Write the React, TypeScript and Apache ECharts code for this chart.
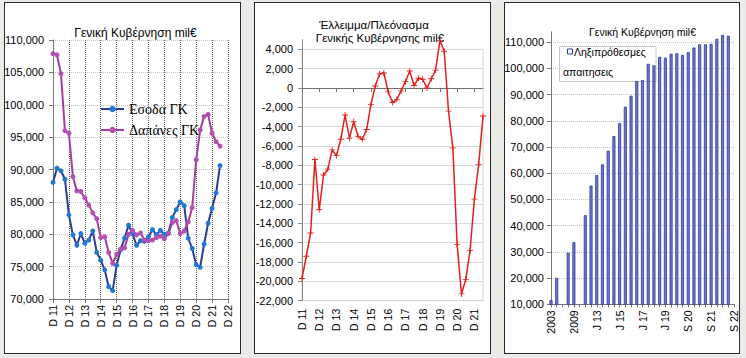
import React, { useEffect, useRef } from 'react';
import * as echarts from 'echarts';

const quarters1 = [
  'D 11',
  'M 12', 'J 12', 'S 12', 'D 12',
  'M 13', 'J 13', 'S 13', 'D 13',
  'M 14', 'J 14', 'S 14', 'D 14',
  'M 15', 'J 15', 'S 15', 'D 15',
  'M 16', 'J 16', 'S 16', 'D 16',
  'M 17', 'J 17', 'S 17', 'D 17',
  'M 18', 'J 18', 'S 18', 'D 18',
  'M 19', 'J 19', 'S 19', 'D 19',
  'M 20', 'J 20', 'S 20', 'D 20',
  'M 21', 'J 21', 'S 21', 'D 21',
  'M 22', 'J 22', 'S 22', 'D 22',
];
const quarters2 = quarters1.slice(0, 43);

const revenue = [
  88000, 90200, 89800, 88500, 83000, 79900, 78300, 80100, 78600, 79100,
  80500, 77200, 76000, 74500, 71900, 71300, 75200, 77600, 79400, 81400,
  80100, 78300, 79000, 78900, 79600, 80700, 79900, 80600, 80000, 80200,
  82600, 83800, 85000, 84400, 79400, 77800, 75300, 74900, 78500, 81700,
  84000, 86400, 90600,
];
const expenditure = [
  107900, 107700, 104800, 96000, 95600, 88900, 86700, 86600, 85600, 84500,
  83300, 82400, 79500, 79600, 77200, 75500, 76900, 77700, 77900, 80000,
  80600, 79900, 80200, 79100, 79000, 79100, 79500, 79700, 79300, 80100,
  81800, 82100, 80100, 80500, 81900, 84100, 91500, 96100, 98200, 98500,
  95600, 94300, 93600,
];
const balance = [
  -19700, -17400, -15000, -7400, -12600, -9000, -8400, -6400, -7000, -5300,
  -2800, -5200, -3500, -5000, -5300, -4300, -1700, 200, 1450, 1550,
  -400, -1500, -1200, -300, 650, 1750, 250, 1000, 900, 0,
  950, 1850, 4900, 3800, -2400, -6200, -16200, -21300, -19800, -16800,
  -11500, -7900, -2900,
];
const arrearsCats = [
  '2003', '2006', '2007', '2008', '2009', '2010', '2011', '2012',
  'J 13', 'D 13', 'J 14', 'D 14', 'J 15', 'D 15', 'J 16', 'D 16',
  'J 17', 'D 17', 'J 18', 'D 18', 'J 19', 'D 19', 'M 20', 'J 20',
  'S 20', 'D 20', 'M 21', 'J 21', 'S 21', 'D 21', 'M 22', 'J 22', 'S 22',
];
const arrears = [
  11600, 20100, null, 29700, 33700, null, 44000, 55300, 59300, 63400,
  68600, 74200, 79100, 85400, 89600, 95200, 95600, 101800, 101200, 104400,
  104100, 105600, 105800, 105200, 106200, 108000, 109200, 109200, 109400, 111300,
  112800, 112500, null,
];

const FONT = 'Liberation Sans';
const every4 = (i: number) => i % 4 === 0;
const fmt = (v: number) => v.toLocaleString('en-US');
const plusPath = 'path://M3,0h1v3h3v1h-3v3h-1v-3h-3v-1h3z';

const axisLbl = { color: '#000', fontSize: 11, fontFamily: FONT };

const option: any = {
  animation: false,
  backgroundColor: 'transparent',
  textStyle: { fontFamily: FONT },
  grid: [
    { left: 53, top: 40, width: 175, height: 259 },
    { left: 302, top: 49.3, width: 181, height: 251.4, show: true, borderColor: '#d4d4d4', borderWidth: 1 },
    { left: 302, top: 39.6, width: 181, height: 261.1 },
    { left: 551, top: 42.3, width: 183, height: 262 },
    { left: 551, top: 31.8, width: 183, height: 272.5 },
  ],
  xAxis: [
    {
      gridIndex: 0, type: 'category', data: quarters1, boundaryGap: false,
      axisLine: { lineStyle: { color: '#777' } },
      axisTick: { interval: every4, length: 4, lineStyle: { color: '#777' } },
      axisLabel: { ...axisLbl, fontSize: 10.5, interval: every4, rotate: 90, margin: 6 },
      splitLine: { show: true, interval: every4, lineStyle: { type: 'dotted', color: '#666' } },
    },
    {
      gridIndex: 1, type: 'category', data: quarters2, boundaryGap: false,
      axisLine: { show: true, onZero: true, lineStyle: { color: '#707070' } },
      axisTick: { show: true, interval: every4, length: 4, lineStyle: { color: '#707070' } },
      axisLabel: { show: false },
      splitLine: { show: false },
    },
    {
      gridIndex: 2, type: 'category', data: quarters2, boundaryGap: false,
      axisLine: { show: false, onZero: false },
      axisTick: { show: false },
      axisLabel: { ...axisLbl, fontSize: 10.5, interval: every4, rotate: 90, margin: 8 },
      splitLine: { show: false },
    },
    { gridIndex: 3, type: 'category', data: arrearsCats, show: false },
    {
      gridIndex: 4, type: 'category', data: arrearsCats, boundaryGap: false,
      axisLine: { lineStyle: { color: '#777' } },
      axisTick: { show: true, interval: 0, length: 3, lineStyle: { color: '#777' } },
      axisLabel: { ...axisLbl, fontSize: 10.5, interval: every4, rotate: 90, margin: 6 },
      splitLine: { show: false },
    },
  ],
  yAxis: [
    {
      gridIndex: 0, type: 'value', min: 70000, max: 110000, interval: 5000,
      axisLine: { show: true, lineStyle: { color: '#777' } },
      axisTick: { show: true, length: 4, lineStyle: { color: '#777' } },
      axisLabel: { ...axisLbl, margin: 9, formatter: fmt },
      splitLine: { show: true, lineStyle: { type: 'dotted', color: '#c4c4c4' } },
    },
    {
      gridIndex: 1, type: 'value', min: -22000, max: 4000, interval: 2000,
      axisLine: { show: false }, axisTick: { show: false }, axisLabel: { show: false },
      splitLine: { show: true, lineStyle: { color: '#d9d9d9' } },
    },
    {
      gridIndex: 2, type: 'value', min: -22000, max: 5000, interval: 2000,
      axisLine: { show: true, lineStyle: { color: '#8a8a8a' } },
      axisTick: { show: true, length: 4, lineStyle: { color: '#8a8a8a' } },
      axisLabel: { ...axisLbl, margin: 9, formatter: fmt, showMaxLabel: false },
      splitLine: { show: false },
    },
    {
      gridIndex: 3, type: 'value', min: 10000, max: 110000, interval: 10000,
      axisLine: { show: false }, axisTick: { show: false }, axisLabel: { show: false },
      splitLine: { show: true, lineStyle: { type: 'dotted', color: '#c4c4c4' } },
    },
    {
      gridIndex: 4, type: 'value', min: 10000, max: 114000, interval: 10000,
      axisLine: { show: true, lineStyle: { color: '#777' } },
      axisTick: { show: true, length: 4, lineStyle: { color: '#777' } },
      axisLabel: { ...axisLbl, margin: 7, formatter: fmt, showMaxLabel: false },
      splitLine: { show: false },
    },
  ],
  legend: {
    data: ['Εσοδα ΓΚ', 'Δαπάνες ΓΚ'],
    orient: 'vertical', left: 95, top: 97,
    itemWidth: 23, itemHeight: 8, itemGap: 7,
    textStyle: { fontFamily: 'Liberation Serif', fontSize: 14, color: '#000' },
  },
  series: [
    {
      name: 'Εσοδα ΓΚ', type: 'line', xAxisIndex: 0, yAxisIndex: 0, data: revenue,
      symbol: 'circle', symbolSize: 5, showAllSymbol: true,
      lineStyle: { color: '#2b3b98', width: 2 },
      itemStyle: { color: '#1f78d1' },
    },
    {
      name: 'Δαπάνες ΓΚ', type: 'line', xAxisIndex: 0, yAxisIndex: 0, data: expenditure,
      symbol: 'circle', symbolSize: 5, showAllSymbol: true,
      lineStyle: { color: '#a3409f', width: 2 },
      itemStyle: { color: '#b24fb0' },
    },
    {
      name: 'Ισοζύγιο', type: 'line', xAxisIndex: 2, yAxisIndex: 2, data: balance,
      symbol: plusPath, symbolSize: 6, showAllSymbol: true,
      lineStyle: { color: '#e3201b', width: 1.5 },
      itemStyle: { color: '#e3201b' },
    },
    {
      name: 'Ληξιπρόθεσμες απαιτησεις', type: 'bar', xAxisIndex: 4, yAxisIndex: 4, data: arrears,
      barWidth: 3,
      itemStyle: { color: '#767dc4', borderColor: '#2433a0', borderWidth: 0.8 },
    },
  ],
  graphic: [
    { type: 'text', x: 135.5, y: 33, style: { text: 'Γενική Κυβέρνηση mil€', font: `12px "${FONT}"`, fill: '#000', align: 'center', verticalAlign: 'middle' } },
    { type: 'text', x: 374, y: 24.5, style: { text: 'Έλλειμμα/Πλεόνασμα', font: `11.5px "${FONT}"`, fill: '#000', align: 'center', verticalAlign: 'middle' } },
    { type: 'text', x: 380, y: 37.5, style: { text: 'Γενικής Κυβέρνησης mil€', font: `11.5px "${FONT}"`, fill: '#000', align: 'center', verticalAlign: 'middle' } },
    { type: 'text', x: 642.5, y: 32, style: { text: 'Γενική Κυβέρνηση mil€', font: `10.5px "${FONT}"`, fill: '#000', align: 'center', verticalAlign: 'middle' } },
    { type: 'rect', z: 1, shape: { x: 559.5, y: 46.5, width: 96.5, height: 35 }, style: { fill: '#fff', stroke: '#c8c8c8', lineWidth: 1 } },
    { type: 'rect', z: 3, shape: { x: 567.5, y: 49, width: 5, height: 5 }, style: { fill: '#fff', stroke: '#2a37a0', lineWidth: 1 } },
    { type: 'text', z: 3, x: 574, y: 51.5, style: { text: 'Ληξιπρόθεσμες', font: `10.5px "${FONT}"`, fill: '#000', align: 'left', verticalAlign: 'middle' } },
    { type: 'text', z: 3, x: 563, y: 71.5, style: { text: 'απαιτησεις', font: `10.5px "${FONT}"`, fill: '#000', align: 'left', verticalAlign: 'middle' } },
  ],
};

const panelStyle = (left: number, width: number): React.CSSProperties => ({
  position: 'absolute', left, top: 2, width, height: 352,
  background: '#fff', border: '1.5px solid #2a2a2a', boxSizing: 'border-box',
});

export default function App() {
  const ref = useRef<HTMLDivElement>(null);
  useEffect(() => {
    const chart = echarts.init(ref.current!, null, { renderer: 'svg' });
    chart.setOption(option);
    return () => chart.dispose();
  }, []);
  return (
    <div style={{ position: 'fixed', left: 0, top: 0, width: 746, height: 358, background: '#ecece7', overflow: 'hidden' }}>
      <div style={panelStyle(4, 237)} />
      <div style={panelStyle(254, 237)} />
      <div style={panelStyle(503.5, 236.5)} />
      <div ref={ref} style={{ position: 'absolute', left: 0, top: 0, width: 746, height: 358 }} />
    </div>
  );
}
